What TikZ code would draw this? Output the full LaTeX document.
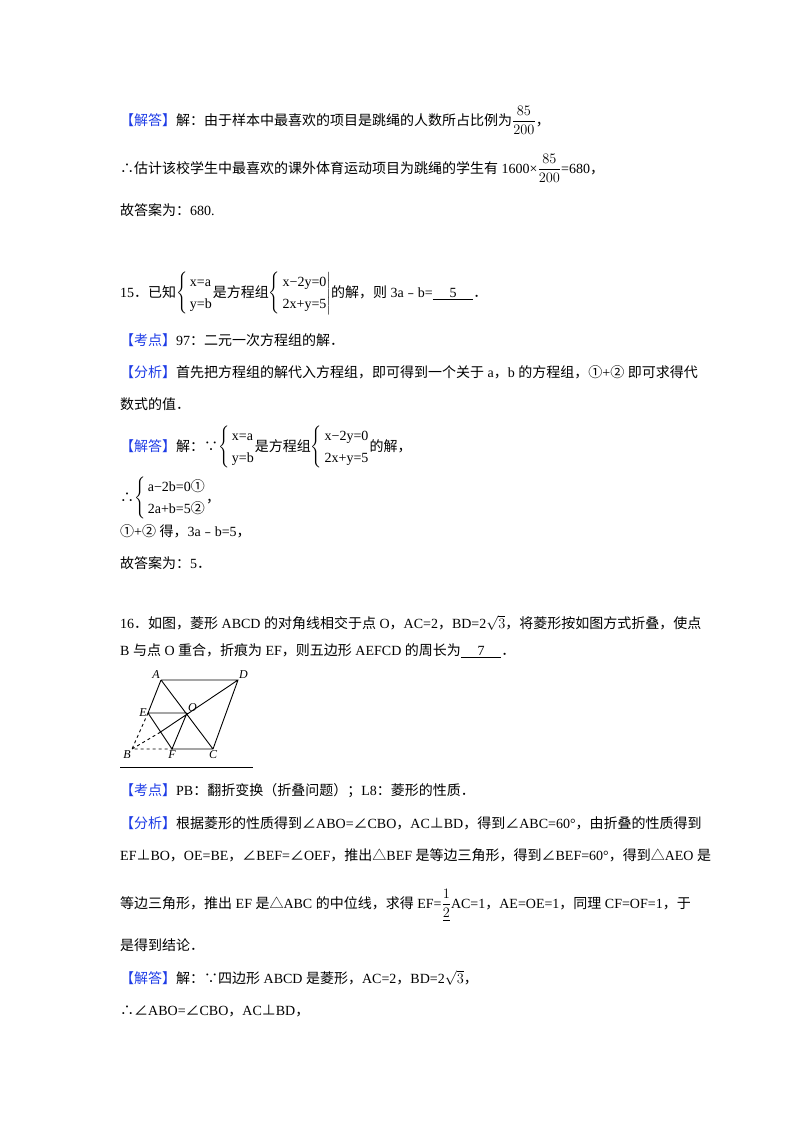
\documentclass[tikz,border=0pt]{standalone}
\usepackage{fontspec}
\usepackage{amsmath,amssymb}
\setmainfont{Liberation Serif}
\newfontfamily\cjk{Noto Sans CJK SC}
\makeatletter
\XeTeXinterchartokenstate=1
\newXeTeXintercharclass\zhclass
\count@="4E00 \loop\XeTeXcharclass\count@=\zhclass\advance\count@ 1 \ifnum\count@<"A000 \repeat
\count@="3000 \loop\XeTeXcharclass\count@=\zhclass\advance\count@ 1 \ifnum\count@<"3040 \repeat
\count@="FF00 \loop\XeTeXcharclass\count@=\zhclass\advance\count@ 1 \ifnum\count@<"FFF0 \repeat
\count@="2460 \loop\XeTeXcharclass\count@=\zhclass\advance\count@ 1 \ifnum\count@<"2474 \repeat
\XeTeXcharclass"2234=\zhclass \XeTeXcharclass"2235=\zhclass
\XeTeXcharclass"2220=\zhclass \XeTeXcharclass"22A5=\zhclass
\XeTeXcharclass"25B3=\zhclass \XeTeXcharclass"FE63=\zhclass
\XeTeXinterchartoks 0 \zhclass={\begingroup\cjk}
\XeTeXinterchartoks 4095 \zhclass={\begingroup\cjk}
\XeTeXinterchartoks \zhclass 0={\endgroup}
\XeTeXinterchartoks \zhclass 4095={\endgroup}
\makeatother
\definecolor{lb}{RGB}{30,60,230}
\newcommand{\lab}[1]{\textcolor{lb}{【#1】}}
\newcommand{\sys}[3]{{\renewcommand{\arraystretch}{1.35}$\left\{\begin{array}{@{\,}l@{}}\text{#1}\\\text{#2}\end{array}\right#3$}}
\begin{document}
\begin{tikzpicture}[x=1pt,y=-1pt,
  t/.style={anchor=base west,inner sep=0pt,font=\fontsize{14}{16}\selectfont},
  g/.style={line width=0.9pt},
  pl/.style={font=\itshape\fontsize{12}{12}\selectfont,inner sep=1pt}]
\useasboundingbox (0,0) rectangle (800,1132);
\node[t] (l1) at (120,125) {\lab{解答}解：由于样本中最喜欢的项目是跳绳的人数所占比例为$\dfrac{85}{200}$，};
\node[t] (l2) at (120,173) {∴估计该校学生中最喜欢的课外体育运动项目为跳绳的学生有 1600×$\dfrac{85}{200}$=680，};
\node[t] (l3) at (120,215) {故答案为：680.};
\node[t] (l4) at (120,297) {15．已知\sys{x=a}{y=b}{.}是方程组\sys{x−2y=0}{2x+y=5}{|}的解，则 3a﹣b=\underline{\hspace{1.2em}5\hspace{1.2em}}．};
\node[t] (l5) at (120,345) {\lab{考点}97：二元一次方程组的解．};
\node[t] (l6) at (120,377) {\lab{分析}首先把方程组的解代入方程组，即可得到一个关于 a，b 的方程组，①+② 即可求得代};
\node[t] (l7) at (120,409) {数式的值．};
\node[t] (l8) at (120,451) {\lab{解答}解：∵\sys{x=a}{y=b}{.}是方程组\sys{x−2y=0}{2x+y=5}{.}的解，};
\node[t] (l9) at (120,502) {∴\sys{a−2b=0①}{2a+b=5②}{.}，};
\node[t] (l10) at (120,536) {①+② 得，3a﹣b=5，};
\node[t] (l11) at (120,568) {故答案为：5．};
\node[t] (l12) at (120,628) {16．如图，菱形 ABCD 的对角线相交于点 O，AC=2，BD=2$\sqrt{3}$，将菱形按如图方式折叠，使点};
\node[t] (l13) at (120,655) {B 与点 O 重合，折痕为 EF，则五边形 AEFCD 的周长为\underline{\hspace{1.2em}7\hspace{1.2em}}．};
% figure
\coordinate (A) at (161,680); \coordinate (D) at (238,680);
\coordinate (E) at (148,713); \coordinate (O) at (187,713);
\coordinate (B) at (132,749); \coordinate (F) at (172,749);
\coordinate (C) at (213,749);
\coordinate (M) at (159,733);
\draw[g] (A)--(D)--(C)--(F) (A)--(E)--(O) (E)--(F)--(O) (A)--(C) (M)--(D);
\draw[g,dashed] (E)--(B)--(F) (B)--(M);
\draw[line width=0.6pt] (120,767)--(253,767);
\node[pl,anchor=south east] at (A) {A};
\node[pl,anchor=south west] at (D) {D};
\node[pl,anchor=east] at (E) {E};
\node[pl,anchor=south west] at (O) {O};
\node[pl,anchor=north east] at (B) {B};
\node[pl,anchor=north] at (F) {F};
\node[pl,anchor=north] at (C) {C};
\node[t] (l14) at (120,795) {\lab{考点}PB：翻折变换（折叠问题）；L8：菱形的性质．};
\node[t] (l15) at (120,828) {\lab{分析}根据菱形的性质得到∠ABO=∠CBO，AC⊥BD，得到∠ABC=60°，由折叠的性质得到};
\node[t] (l16) at (120,860) {EF⊥BO，OE=BE，∠BEF=∠OEF，推出△BEF 是等边三角形，得到∠BEF=60°，得到△AEO 是};
\node[t] (l17) at (120,908) {等边三角形，推出 EF 是△ABC 的中位线，求得 EF=$\dfrac{1}{\underline{2}}$AC=1，AE=OE=1，同理 CF=OF=1，于};
\node[t] (l18) at (120,950) {是得到结论．};
\node[t] (l19) at (120,983) {\lab{解答}解：∵四边形 ABCD 是菱形，AC=2，BD=2$\sqrt{3}$，};
\node[t] (l20) at (120,1015) {∴∠ABO=∠CBO，AC⊥BD，};
\end{tikzpicture}
\end{document}
